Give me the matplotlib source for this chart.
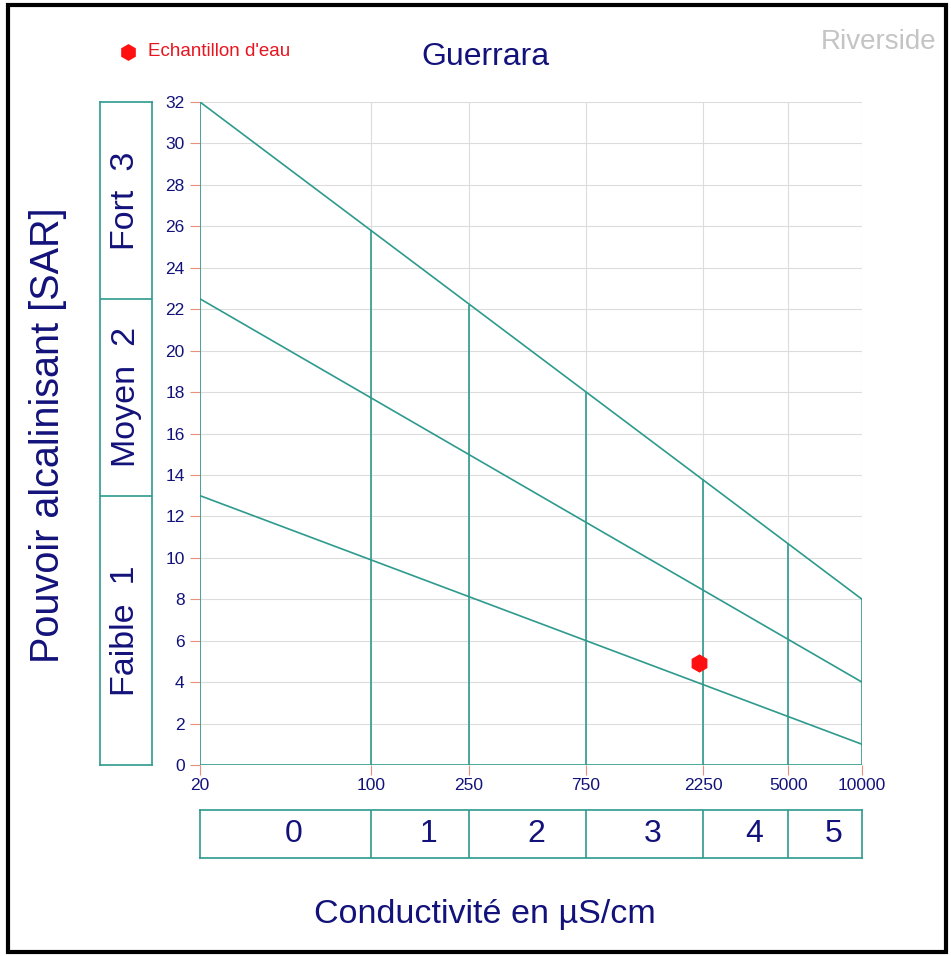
import numpy as np
import matplotlib
matplotlib.use("Agg")
import matplotlib.pyplot as plt
from matplotlib.patches import Rectangle

plt.rcParams['font.family'] = ['Liberation Sans', 'DejaVu Sans']

# Données du diagramme de Riverside
class_edges = [20, 100, 250, 750, 2250, 5000, 10000]
class_labels = ['0', '1', '2', '3', '4', '5']
edge_tops = [32, 25.8, 22.2, 18.0, 13.8, 10.7, 8]   # sommet des verticales (ligne haute)

line_x = [20, 10000]
line_high = [32, 8]
line_mid = [22.5, 4]
line_low = [13, 1]

sar_bounds = [0, 13, 22.5, 32]
sar_labels = ['Faible  1', 'Moyen  2', 'Fort  3']

sample_ce = [2160]
sample_sar = [4.9]

TEAL = '#2e9a8e'
NAVY = '#12127a'
W, H = 951, 956

fig = plt.figure(figsize=(W / 100, H / 100), dpi=100)

# cadre noir
fig.patches.append(Rectangle((8 / W, 1 - 952 / H), 938 / W, 947 / H,
                             transform=fig.transFigure, fill=False,
                             edgecolor='black', linewidth=3))

# axe principal
ax = fig.add_axes([200 / W, 1 - 765 / H, 662 / W, 663 / H])
ax.set_xscale('log')
ax.set_xlim(20, 10000)
ax.set_ylim(0, 32)
for s in ax.spines.values():
    s.set_visible(False)
ax.set_xticks(class_edges)
ax.set_xticklabels([str(v) for v in class_edges])
ax.xaxis.set_minor_locator(plt.NullLocator())
ax.set_yticks(np.arange(0, 33, 2))
ax.tick_params(axis='both', colors='#e8907a', labelcolor=NAVY, labelsize=12.5,
               length=7, width=0.8, direction='out')
ax.tick_params(axis='x', pad=2)
ax.tick_params(axis='y', pad=4)
ax.grid(True, color='#dcdcdc', linewidth=0.8)
ax.set_axisbelow(True)

# lignes de séparation des classes
ax.plot(line_x, line_high, color=TEAL, lw=1.2)
ax.plot(line_x, line_mid, color=TEAL, lw=1.2)
ax.plot(line_x, line_low, color=TEAL, lw=1.2)
ax.plot(line_x, [0, 0], color=TEAL, lw=1.2)
ax.vlines(class_edges, 0, edge_tops, color=TEAL, lw=1.2)

# échantillon
ax.plot(sample_ce, sample_sar, marker='h', color='#ff1010', markersize=12,
        linestyle='none', clip_on=False, zorder=5)

# cases du bas (classes de conductivité)
axb = fig.add_axes([200 / W, 1 - 858 / H, 662 / W, 48 / H])
axb.set_xscale('log')
axb.set_xlim(20, 10000)
axb.set_ylim(0, 1)
axb.set_xticks([])
axb.set_yticks([])
axb.xaxis.set_minor_locator(plt.NullLocator())
for s in axb.spines.values():
    s.set_color(TEAL)
    s.set_linewidth(1.2)
axb.vlines(class_edges[1:-1], 0, 1, color=TEAL, lw=1.2)
for i, lab in enumerate(class_labels):
    xc = np.sqrt(class_edges[i] * class_edges[i + 1])
    axb.annotate(lab, (xc, 0.5), xytext=(6, 0), textcoords='offset points',
                 ha='center', va='center', fontsize=23, color=NAVY)

# cases de gauche (classes SAR)
axl = fig.add_axes([100 / W, 1 - 765 / H, 52 / W, 663 / H])
axl.set_xlim(0, 1)
axl.set_ylim(0, 32)
axl.set_xticks([])
axl.set_yticks([])
for s in axl.spines.values():
    s.set_color(TEAL)
    s.set_linewidth(1.2)
axl.hlines(sar_bounds[1:-1], 0, 1, color=TEAL, lw=1.2)
for i, lab in enumerate(sar_labels):
    yc = (sar_bounds[i] + sar_bounds[i + 1]) / 2
    axl.text(0.5, yc, lab, rotation=90, ha='center', va='center',
             fontsize=24.5, color=NAVY)

# textes
fig.text(485 / W, 1 - 57 / H, 'Guerrara', ha='center', va='center',
         fontsize=23, color=NAVY)
fig.text(879 / W, 1 - 42 / H, 'Riverside', ha='center', va='center',
         fontsize=20, color='#c4c4c4')
fig.lines.append(plt.Line2D([128 / W], [1 - 52 / H], marker='h', color='#ff1010',
                            markersize=11, transform=fig.transFigure))
fig.text(148 / W, 1 - 52 / H, "Echantillon d'eau", ha='left', va='center',
         fontsize=13.5, color='#e8141e')
fig.text(48 / W, 1 - 435 / H, 'Pouvoir alcalinisant [SAR]', rotation=90,
         ha='center', va='center', fontsize=28.5, color=NAVY)
fig.text(485 / W, 1 - 915 / H, 'Conductivité en µS/cm', ha='center',
         va='center', fontsize=24.5, color=NAVY)

fig.savefig('out.png', dpi=100, facecolor='white')
